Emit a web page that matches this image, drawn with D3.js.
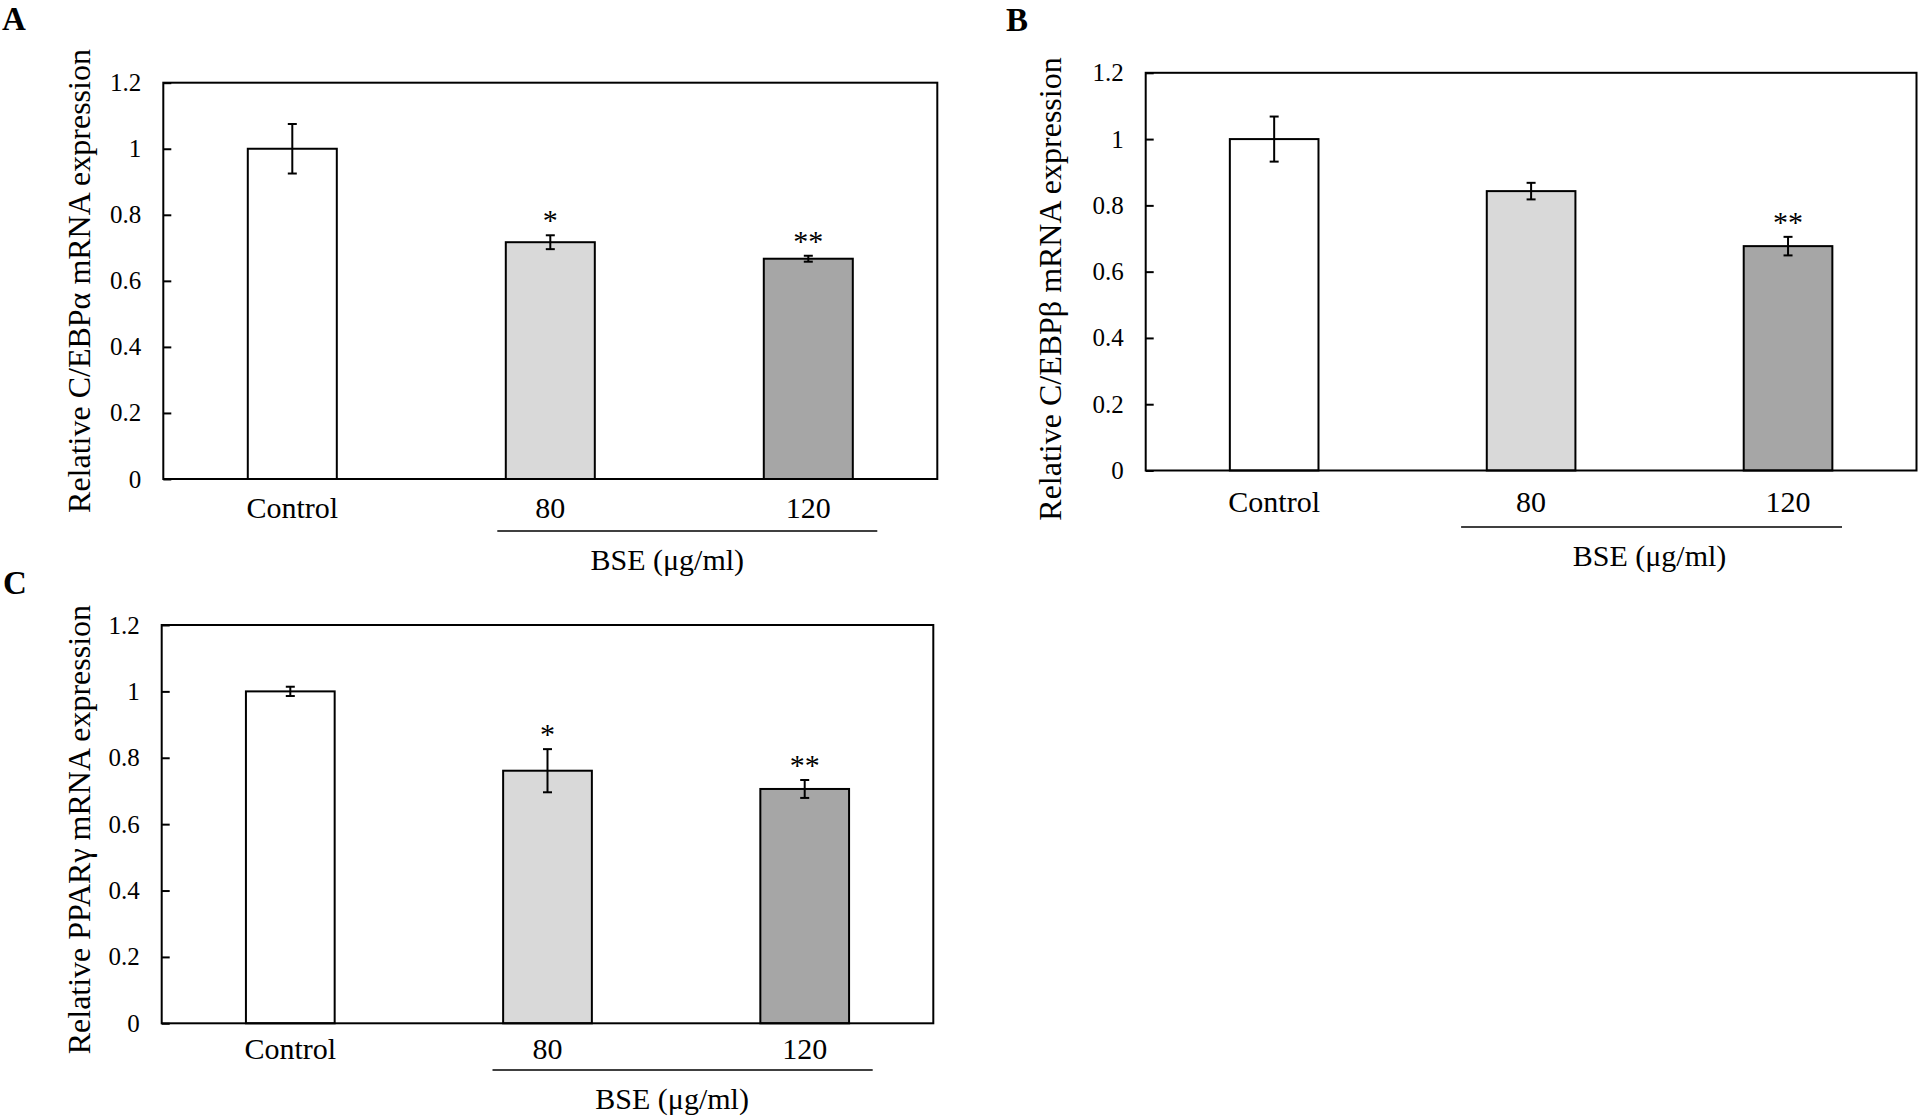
<!DOCTYPE html>
<html>
<head>
<meta charset="utf-8">
<script src="https://cdn.jsdelivr.net/npm/d3@7"></script>
<style>
  body { margin: 0; background: #fff; }
  svg { display: block; font-family: 'Liberation Serif', 'Times New Roman', serif; }
</style>
</head>
<body>
<div class="figure"></div>
<script>
const categories = ['Control', '80', '120'];
const yTickValues = [0, 0.2, 0.4, 0.6, 0.8, 1, 1.2];
const yTickLabels = ['0', '0.2', '0.4', '0.6', '0.8', '1', '1.2'];
const barFills = ['#ffffff', '#d9d9d9', '#a6a6a6'];

// C/EBPα
const cebpaMeans = [1.0, 0.717, 0.667];
const cebpaErrors = [0.075, 0.021, 0.009];
const cebpaStars = ['', '*', '**'];

// C/EBPβ
const cebpbMeans = [1.0, 0.843, 0.677];
const cebpbErrors = [0.068, 0.025, 0.028];
const cebpbStars = ['', '', '**'];

// PPARγ
const pparMeans = [1.0, 0.761, 0.706];
const pparErrors = [0.014, 0.065, 0.027];
const pparStars = ['', '*', '**'];

const groupLabel = 'BSE (μg/ml)';

const panels = [
  {
    letter: 'A', title: 'Relative C/EBPα mRNA expression',
    means: cebpaMeans, errors: cebpaErrors, stars: cebpaStars,
    left: 163.3, top: 82.7, right: 937.3, bottom: 479,
    titleX: 90, titleY: 281, letterX: 2, letterY: 30,
    catGap: 18, lineGap: 52, lineOff: [-53, 69], groupOff: -12,
  },
  {
    letter: 'B', title: 'Relative C/EBPβ mRNA expression',
    means: cebpbMeans, errors: cebpbErrors, stars: cebpbStars,
    left: 1145.7, top: 72.8, right: 1916.5, bottom: 470.5,
    titleX: 1061, titleY: 289, letterX: 1006, letterY: 31,
    catGap: 20, lineGap: 56.5, lineOff: [-70, 54], groupOff: -10,
  },
  {
    letter: 'C', title: 'Relative PPARγ mRNA expression',
    means: pparMeans, errors: pparErrors, stars: pparStars,
    left: 161.7, top: 625, right: 933.3, bottom: 1023.3,
    titleX: 90, titleY: 829.6, letterX: 3, letterY: 594,
    catGap: 14, lineGap: 46.7, lineOff: [-55, 68], groupOff: -4,
  },
];

const svg = d3
  .select('.figure')
  .append('svg')
  .attr('width', 1920)
  .attr('height', 1119);

function drawPanel(p) {
  const width = p.right - p.left;
  const height = p.bottom - p.top;

  const bounds = svg
    .append('g')
    .attr('transform', `translate(${p.left}, ${p.top})`);

  const xScale = d3
    .scaleBand()
    .domain(categories)
    .range([0, width])
    .paddingInner(0.655)
    .paddingOuter(0.3275);

  const yScale = d3.scaleLinear().domain([0, 1.2]).range([height, 0]);

  const rows = categories.map((c, i) => ({
    cat: c,
    mean: p.means[i],
    err: p.errors[i],
    star: p.stars[i],
    fill: barFills[i],
  }));

  // bars
  bounds
    .selectAll('rect.bar')
    .data(rows)
    .join('rect')
    .attr('class', 'bar')
    .attr('x', (d) => xScale(d.cat))
    .attr('width', xScale.bandwidth())
    .attr('y', (d) => yScale(d.mean))
    .attr('height', (d) => height - yScale(d.mean))
    .attr('fill', (d) => d.fill)
    .attr('stroke', '#000')
    .attr('stroke-width', 2);

  // error bars
  const cx = (d) => xScale(d.cat) + xScale.bandwidth() / 2;
  const errs = bounds.selectAll('g.err').data(rows).join('g').attr('class', 'err');
  errs
    .append('line')
    .attr('x1', cx)
    .attr('x2', cx)
    .attr('y1', (d) => yScale(d.mean + d.err))
    .attr('y2', (d) => yScale(d.mean - d.err));
  errs
    .append('line')
    .attr('x1', (d) => cx(d) - 4.5)
    .attr('x2', (d) => cx(d) + 4.5)
    .attr('y1', (d) => yScale(d.mean + d.err))
    .attr('y2', (d) => yScale(d.mean + d.err));
  errs
    .append('line')
    .attr('x1', (d) => cx(d) - 4.5)
    .attr('x2', (d) => cx(d) + 4.5)
    .attr('y1', (d) => yScale(d.mean - d.err))
    .attr('y2', (d) => yScale(d.mean - d.err));
  errs.selectAll('line').attr('stroke', '#000').attr('stroke-width', 2);

  // significance stars
  bounds
    .selectAll('text.star')
    .data(rows.filter((d) => d.star))
    .join('text')
    .attr('class', 'star')
    .attr('x', cx)
    .attr('y', (d) => yScale(d.mean + d.err) - 5)
    .attr('text-anchor', 'middle')
    .style('font-size', '30px')
    .text((d) => d.star);

  // frame
  bounds
    .append('rect')
    .attr('width', width)
    .attr('height', height)
    .attr('fill', 'none')
    .attr('stroke', '#000')
    .attr('stroke-width', 2);

  // yAxis
  const yAxisGenerator = d3
    .axisLeft(yScale)
    .tickValues(yTickValues)
    .tickFormat((d, i) => yTickLabels[i])
    .tickSizeInner(-8)
    .tickSizeOuter(0)
    .tickPadding(22);
  const yAxis = bounds.append('g').call(yAxisGenerator);
  yAxis.select('.domain').remove();
  yAxis.selectAll('line').attr('stroke', '#000').attr('stroke-width', 2);
  yAxis
    .selectAll('text')
    .attr('fill', '#000')
    .style('font-size', '25px')
    .style('font-family', "'Liberation Serif', serif");

  // xAxis
  const xAxisGenerator = d3.axisBottom(xScale).tickSize(0).tickPadding(p.catGap);
  const xAxis = bounds
    .append('g')
    .attr('transform', `translate(0, ${height})`)
    .call(xAxisGenerator);
  xAxis.select('.domain').remove();
  xAxis
    .selectAll('text')
    .attr('fill', '#000')
    .style('font-size', '30px')
    .style('font-family', "'Liberation Serif', serif");

  // BSE group line + label
  const c80 = xScale('80') + xScale.bandwidth() / 2;
  const c120 = xScale('120') + xScale.bandwidth() / 2;
  bounds
    .append('line')
    .attr('x1', c80 + p.lineOff[0])
    .attr('x2', c120 + p.lineOff[1])
    .attr('y1', height + p.lineGap)
    .attr('y2', height + p.lineGap)
    .attr('stroke', '#000')
    .attr('stroke-width', 1.5);
  bounds
    .append('text')
    .attr('x', (c80 + c120) / 2 + p.groupOff)
    .attr('y', height + p.lineGap + 39)
    .attr('text-anchor', 'middle')
    .style('font-size', '30px')
    .text(groupLabel);

  // yAxisLabel
  svg
    .append('text')
    .attr('transform', `translate(${p.titleX}, ${p.titleY}) rotate(-90)`)
    .attr('text-anchor', 'middle')
    .style('font-size', '32px')
    .text(p.title);

  // panel letter
  svg
    .append('text')
    .attr('x', p.letterX)
    .attr('y', p.letterY)
    .style('font-size', '33px')
    .style('font-weight', 'bold')
    .text(p.letter);
}

panels.forEach(drawPanel);
</script>
</body>
</html>
